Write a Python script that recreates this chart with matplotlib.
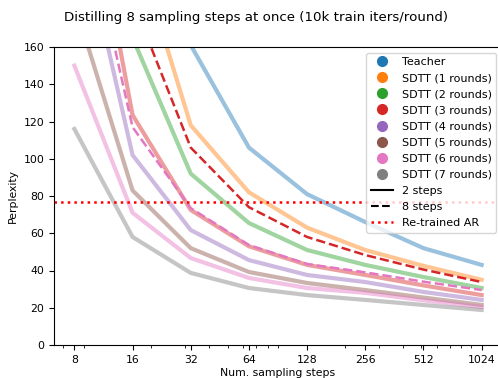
import numpy as np
import matplotlib
matplotlib.use("Agg")
from matplotlib import pyplot as plt
from matplotlib.lines import Line2D

steps = [8, 16, 32, 64, 128, 256, 512, 1024]

# perplexity per number of sampling steps
teacher = [700, 330, 161, 106, 81, 66, 52, 43]
sdtt_1 = [400, 220, 118, 82, 63, 51, 42.5, 35]
sdtt_2 = [300, 165, 92, 65.5, 51, 43, 36.5, 30.6]
sdtt_3 = [290, 123.5, 72.5, 53, 43, 37.6, 32, 26.8]
sdtt_4 = [239, 102, 61.7, 45.6, 37.6, 33.8, 28.5, 24.2]
sdtt_5 = [184, 83, 52, 39.2, 33.3, 29.5, 25.5, 21.5]
sdtt_6 = [150, 71, 46.7, 36, 30.6, 28, 24, 20.4]
sdtt_7 = [116, 58, 38.7, 30.6, 26.8, 24.2, 21.5, 18.8]
# dashed ones (8 steps)
sdtt_3_8steps = [330, 185, 106, 74, 58, 48.3, 40.5, 33.8]
sdtt_6_8steps = [256, 117, 73.5, 53.7, 43.5, 39, 34, 29.5]
retrained_ar = 77

solid_series = [teacher, sdtt_1, sdtt_2, sdtt_3, sdtt_4, sdtt_5, sdtt_6, sdtt_7]
names = ["Teacher"] + [f"SDTT ({k} rounds)" for k in range(1, 8)]
colors = ["tab:blue", "tab:orange", "tab:green", "tab:red",
          "tab:purple", "tab:brown", "tab:pink", "tab:gray"]

fs = 8
fig = plt.figure(figsize=(4.98, 3.78), dpi=100)
ax = fig.add_axes([54 / 498, 33 / 378, 448 / 498, 298 / 378])

for ys, c in zip(solid_series, colors):
    ax.plot(steps, ys, color=c, alpha=0.45, lw=3)

ax.plot(steps, sdtt_3_8steps, color="tab:red", ls="--", lw=1.8)
ax.plot(steps, sdtt_6_8steps, color="tab:pink", ls="--", lw=1.8)
ax.axhline(retrained_ar, color="red", ls=":", lw=1.8)

ax.set_xscale("log")
ax.set_xticks(steps, [str(s) for s in steps])
ax.set_ylim(0, 160)
ax.set_yticks(np.arange(0, 161, 20))
ax.tick_params(labelsize=7.8)
ax.set_xlabel("Num. sampling steps", fontsize=7.8, labelpad=2)
ax.set_ylabel("Perplexity", fontsize=7.8)

handles = [Line2D([], [], color=c, marker="o", ls="none", markersize=7) for c in colors]
handles += [Line2D([], [], color="black", ls="-", lw=1.5),
            Line2D([], [], color="black", ls="--", lw=1.5),
            Line2D([], [], color="red", ls=":", lw=1.8)]
labels = names + ["2 steps", "8 steps", "Re-trained AR"]
ax.legend(handles, labels, loc="upper right", fontsize=fs, labelspacing=0.55)

fig.text(256 / 498, 1 - 17 / 378, "Distilling 8 sampling steps at once (10k train iters/round)",
         ha="center", va="center", fontsize=9.6)

plt.savefig("out.png", dpi=100)
